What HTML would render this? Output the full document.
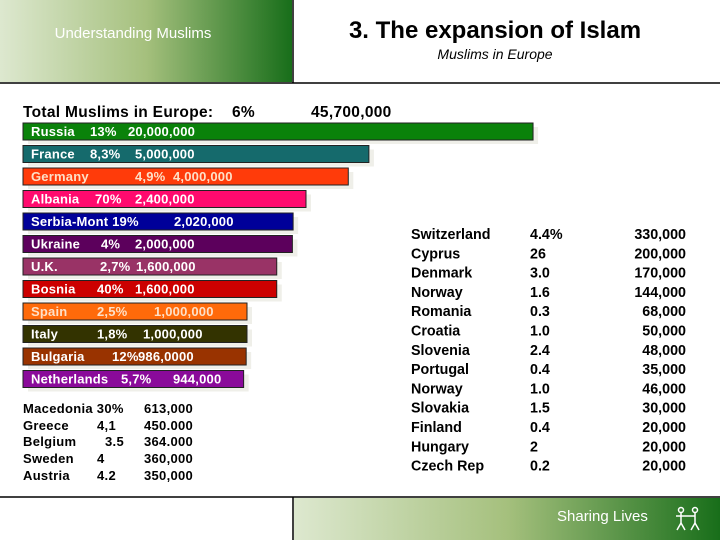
<!DOCTYPE html>
<html><head><meta charset="utf-8"><style>
html,body{margin:0;padding:0;background:#fff;width:720px;height:540px;overflow:hidden}
svg{display:block;font-family:"Liberation Sans",Arial,sans-serif}
.bt{fill:#fff;font-weight:bold;font-size:13px;letter-spacing:0.2px}
.lt{fill:#000;font-weight:bold;font-size:13px;letter-spacing:0.3px}
.rt{fill:#000;font-weight:bold;font-size:14.3px}
</style></head><body>
<svg id="chart" width="720" height="540" viewBox="0 0 720 540">
<defs>
<linearGradient id="hg" x1="0" x2="1" y1="0" y2="0"><stop offset="0" stop-color="#dde8cf"/><stop offset="0.5" stop-color="#a5c07d"/><stop offset="1" stop-color="#186e1a"/></linearGradient>
<linearGradient id="fg" x1="0" x2="1" y1="0" y2="0"><stop offset="0" stop-color="#dde8cf"/><stop offset="0.5" stop-color="#a5c07d"/><stop offset="1" stop-color="#186e1a"/></linearGradient>
</defs>
<rect x="0" y="0" width="292" height="82" fill="url(#hg)"/>
<line x1="293" y1="0" x2="293" y2="83" stroke="#000" stroke-width="1.5"/>
<line x1="0" y1="83" x2="720" y2="83" stroke="#000" stroke-width="1.5"/>
<text x="133" y="38" text-anchor="middle" fill="#fff" font-size="15">Understanding Muslims</text>
<text x="495" y="38" text-anchor="middle" fill="#000" font-size="24" font-weight="bold">3. The expansion of Islam</text>
<text x="495" y="59" text-anchor="middle" fill="#000" font-size="14" font-style="italic">Muslims in Europe</text>
<text x="23" y="117" class="lt" style="font-size:15.5px">Total Muslims in Europe:</text>
<text x="232" y="117" class="lt" style="font-size:15.5px">6%</text>
<text x="311" y="117" class="lt" style="font-size:15.5px">45,700,000</text>
<g id="bars"></g>
<g>
<text x="23" y="413" class="lt">Macedonia 30%</text><text x="144" y="413" class="lt">613,000</text>
<text x="23" y="430" class="lt">Greece</text><text x="97" y="430" class="lt">4,1</text><text x="144" y="430" class="lt">450.000</text>
<text x="23" y="446" class="lt">Belgium</text><text x="105" y="446" class="lt">3.5</text><text x="144" y="446" class="lt">364.000</text>
<text x="23" y="463" class="lt">Sweden</text><text x="97" y="463" class="lt">4</text><text x="144" y="463" class="lt">360,000</text>
<text x="23" y="480" class="lt">Austria</text><text x="97" y="480" class="lt">4.2</text><text x="144" y="480" class="lt">350,000</text>
</g>
<g id="rtable"></g>
<line x1="0" y1="497" x2="720" y2="497" stroke="#000" stroke-width="1.5"/>
<rect x="294" y="498" width="426" height="42" fill="url(#fg)"/>
<line x1="293" y1="497" x2="293" y2="540" stroke="#000" stroke-width="1.5"/>
<text x="557" y="521" fill="#fff" font-size="15">Sharing Lives</text>
<g stroke="#fff" stroke-width="1.5" fill="none">
<circle cx="681" cy="510" r="2.5"/><line x1="681" y1="513" x2="681" y2="523"/><line x1="676" y1="516" x2="695" y2="516"/><line x1="681" y1="523" x2="677" y2="530"/><line x1="681" y1="523" x2="685" y2="530"/>
<circle cx="695" cy="510" r="2.5"/><line x1="695" y1="513" x2="695" y2="523"/><line x1="695" y1="523" x2="691" y2="530"/><line x1="695" y1="523" x2="699" y2="530"/>
</g>
</svg>
<script>
const countries=["Russia","France","Germany","Albania","Serbia-Mont","Ukraine","U.K.","Bosnia","Spain","Italy","Bulgaria","Netherlands"];
const percents=["13%","8,3%","4,9%","70%","19%","4%","2,7%","40%","2,5%","1,8%","12%","5,7%"];
const values=[20,5,4,2.4,2.02,2,1.6,1.6,1,1,0.986,0.944];
const valueLabels=["20,000,000","5,000,000","4,000,000","2,400,000","2,020,000","2,000,000","1,600,000","1,600,000","1,000,000","1,000,000","986,0000","944,000"];
const colors=["#0a820a","#156a6c","#ff3b0a","#ff0a6e","#000099","#5c005c","#993366","#cc0000","#ff6a0a","#333300","#993300","#8a0a9a"];
const pctX=[90,90,135,95,0,101,100,97,97,97,112,121];
const valX=[128,135,173,135,174,135,136,135,154,143,138,173];
const nameTextFill=["#fff","#fff","#fde0c8","#fff","#fff","#fff","#fff","#fff","#fde0c8","#fff","#fff","#fff"];
const x0=23, top0=123, step=22.5, barH=17;
function xScale(v){return 27.6+196.4*Math.pow(v,0.3);}
const ns="http://www.w3.org/2000/svg";
const g=document.getElementById("bars");
values.forEach((v,i)=>{
  const y=top0+i*step, w=xScale(v);
  const sh=document.createElementNS(ns,"rect");
  sh.setAttribute("x",x0+5);sh.setAttribute("y",y+4);sh.setAttribute("width",w);sh.setAttribute("height",barH);sh.setAttribute("fill","#efefe9");
  
  
  g.appendChild(sh);
  const r=document.createElementNS(ns,"rect");
  r.setAttribute("x",x0);r.setAttribute("y",y);r.setAttribute("width",w);r.setAttribute("height",barH);r.setAttribute("fill",colors[i]);r.setAttribute("stroke","#222");r.setAttribute("stroke-width","1");
  
  
  g.appendChild(r);
  const t=document.createElementNS(ns,"text");
  t.setAttribute("x",31);t.setAttribute("y",y+13);t.setAttribute("class","bt");t.style.fill=nameTextFill[i];
  t.textContent=i===4?countries[i]+" "+percents[i]:countries[i];
  
  
  g.appendChild(t);
  if(pctX[i]){const p=document.createElementNS(ns,"text");p.setAttribute("x",pctX[i]);p.setAttribute("y",y+13);p.setAttribute("class","bt");p.style.fill=nameTextFill[i];p.textContent=percents[i];
  
  
  g.appendChild(p);}
  const q=document.createElementNS(ns,"text");q.setAttribute("x",valX[i]);q.setAttribute("y",y+13);q.setAttribute("class","bt");q.style.fill=nameTextFill[i];q.textContent=valueLabels[i];
  
  
  g.appendChild(q);
});
const rCountries=["Switzerland","Cyprus","Denmark","Norway","Romania","Croatia","Slovenia","Portugal","Norway","Slovakia","Finland","Hungary","Czech Rep"];
const rPercents=["4.4%","26","3.0","1.6","0.3","1.0","2.4","0.4","1.0","1.5","0.4","2","0.2"];
const rValues=["330,000","200,000","170,000","144,000","68,000","50,000","48,000","35,000","46,000","30,000","20,000","20,000","20,000"];
const rt=document.getElementById("rtable");
rCountries.forEach((c,i)=>{
  const y=239+i*19.3;
  [[411,c],[530,rPercents[i]],[686,rValues[i]]].forEach((a,j)=>{
    const t=document.createElementNS(ns,"text");
    t.setAttribute("x",a[0]);t.setAttribute("y",y);t.setAttribute("class","rt");
    if(j===2)t.setAttribute("text-anchor","end");
    t.textContent=a[1];
    
    
    rt.appendChild(t);
  });
});
</script>
</body></html>
